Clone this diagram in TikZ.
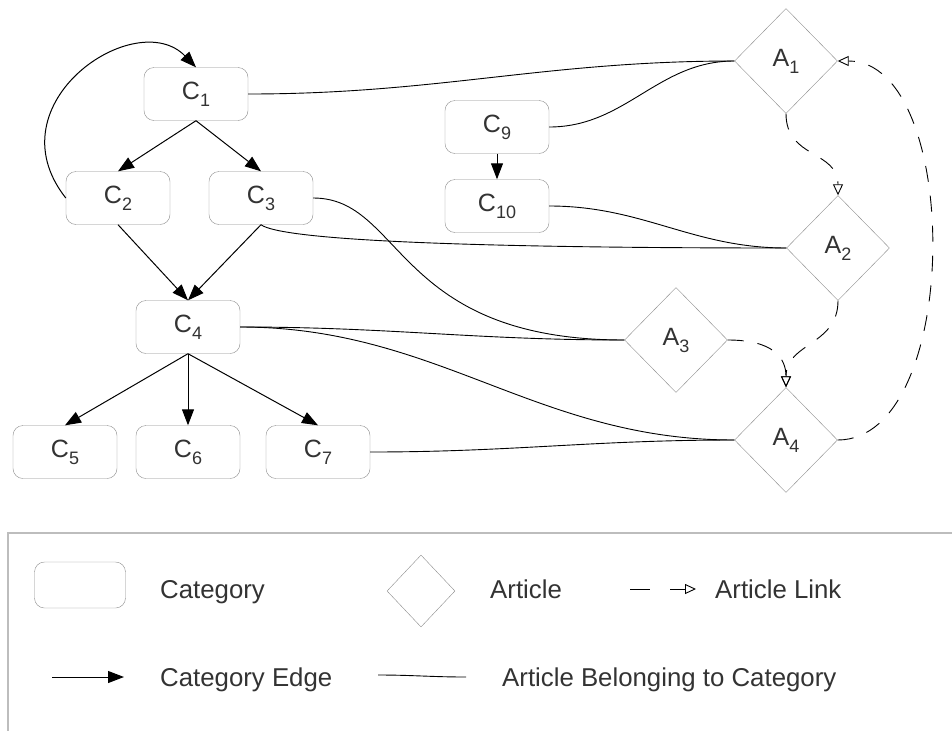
\documentclass[tikz,border=0pt]{standalone}
\usepackage{fontspec}
\setmainfont{Liberation Sans}
\usetikzlibrary{shapes.geometric,arrows.meta}
\definecolor{labelgray}{HTML}{333333}
\definecolor{boxgray}{HTML}{8C8C8C}
\definecolor{framegray}{HTML}{BDBDBD}
\newcommand{\lowsub}[1]{\raisebox{-7pt}{\fontsize{18}{18}\selectfont #1}}

\begin{document}
\begin{tikzpicture}[x=1pt,y=-1pt,
    cat/.style={draw=boxgray,fill=white,rounded corners=10pt,
        minimum width=104pt,minimum height=53pt,inner sep=0pt,
        text=labelgray,font=\fontsize{25}{30}\selectfont},
    art/.style={diamond,aspect=1,draw=boxgray,fill=white,
        minimum width=103pt,minimum height=105pt,inner sep=0pt,
        text=labelgray,font=\fontsize{25}{30}\selectfont},
    catedge/.style={-{Triangle[length=16pt,width=12pt]},line width=1pt},
    belong/.style={line width=0.9pt},
    artlink/.style={-{Triangle[open,length=11pt,width=10pt]},line width=0.9pt,
        dash pattern=on 16pt off 14pt},
    legtext/.style={anchor=base west,inner sep=0pt,text=labelgray,
        font=\fontsize{25.8}{30}\selectfont}]
    \useasboundingbox (0,0) rectangle (952,731);

    % categories
    \node[cat] (C1) at (196,94) {C\lowsub{1}};
    \node[cat] (C2) at (118,198) {C\lowsub{2}};
    \node[cat] (C3) at (261,198) {C\lowsub{3}};
    \node[cat] (C4) at (188,327) {C\lowsub{4}};
    \node[cat] (C5) at (65,452) {C\lowsub{5}};
    \node[cat] (C6) at (188,452) {C\lowsub{6}};
    \node[cat] (C7) at (318,452) {C\lowsub{7}};
    \node[cat] (C9) at (497,127) {C\lowsub{9}};
    \node[cat] (C10) at (497,206) {C\lowsub{10}};

    % articles
    \node[art] (A1) at (786,61) {A\lowsub{1}};
    \node[art] (A2) at (838,248) {A\lowsub{2}};
    \node[art] (A3) at (676,340) {A\lowsub{3}};
    \node[art] (A4) at (786,440) {A\lowsub{4}};

    % category edges
    \draw[catedge] (C1.south) -- (C2.north);
    \draw[catedge] (C1.south) -- (C3.north);
    \draw[catedge] (C2.south) -- (C4.north);
    \draw[catedge] (C3.south) -- (C4.north);
    \draw[catedge] (C4.south) -- (C5.north);
    \draw[catedge] (C4.south) -- (C6.north);
    \draw[catedge] (C4.south) -- (C7.north);
    \draw[catedge] (C9.south) -- (C10.north);
    \draw[catedge] (C2.west) .. controls +(-75,-95) and +(-60,-62) .. (C1.north);

    % articles in categories
    \draw[belong] (C1.east) to[out=0,in=180] (A1.west);
    \draw[belong] (C9.east) to[out=0,in=180] (A1.west);
    \draw[belong] (C3.east) .. controls +(90,0) and +(-230,0) .. (A3.west);
    \draw[belong] (C3.south) .. controls +(20,15) and +(-330,0) .. (A2.west);
    \draw[belong] (C10.east) to[out=0,in=180] (A2.west);
    \draw[belong] (C4.east) to[out=0,in=180] (A3.west);
    \draw[belong] (C4.east) to[out=0,in=180] (A4.west);
    \draw[belong] (C7.east) to[out=0,in=180] (A4.west);

    % article links
    \draw[artlink] (A1.south) .. controls +(0,45) and +(0,-45) .. (A2.north);
    \draw[artlink] (A2.south) .. controls +(0,45) and +(0,-45) .. (A4.north);
    \draw[artlink] (A3.east) .. controls +(45,0) and +(0,-30) .. (A4.north);
    \draw[artlink] (A4.east) .. controls +(125,0) and +(125,0) .. (A1.east);

    % legend
    \draw[framegray,line width=1.5pt] (952,533) -- (8,533) -- (8,731);
    \node[cat,minimum width=91pt,minimum height=46pt] (legcat) at (80,585) {};
    \node[art,minimum width=68pt,minimum height=72pt] (legart) at (421,591) {};
    \node[legtext] (tcat) at (160,598) {Category};
    \node[legtext] (tart) at (490,598) {Article};
    \node[legtext] (tlink) at (715,598) {Article Link};
    \node[legtext] (tedge) at (160,686) {Category Edge};
    \node[legtext] (tbelong) at (502,686) {Article Belonging to Category};
    \coordinate (linkA) at (630,589);
    \coordinate (linkB) at (696,589);
    \draw[artlink,dash pattern=on 20pt off 20pt] (linkA) -- (linkB);
    \coordinate (edgeA) at (52,677);
    \coordinate (edgeB) at (124,677);
    \draw[catedge] (edgeA) -- (edgeB);
    \coordinate (belA) at (378,675);
    \coordinate (belB) at (466,677);
    \draw[belong] (belA) to[out=0,in=180] (belB);
\end{tikzpicture}
\end{document}
